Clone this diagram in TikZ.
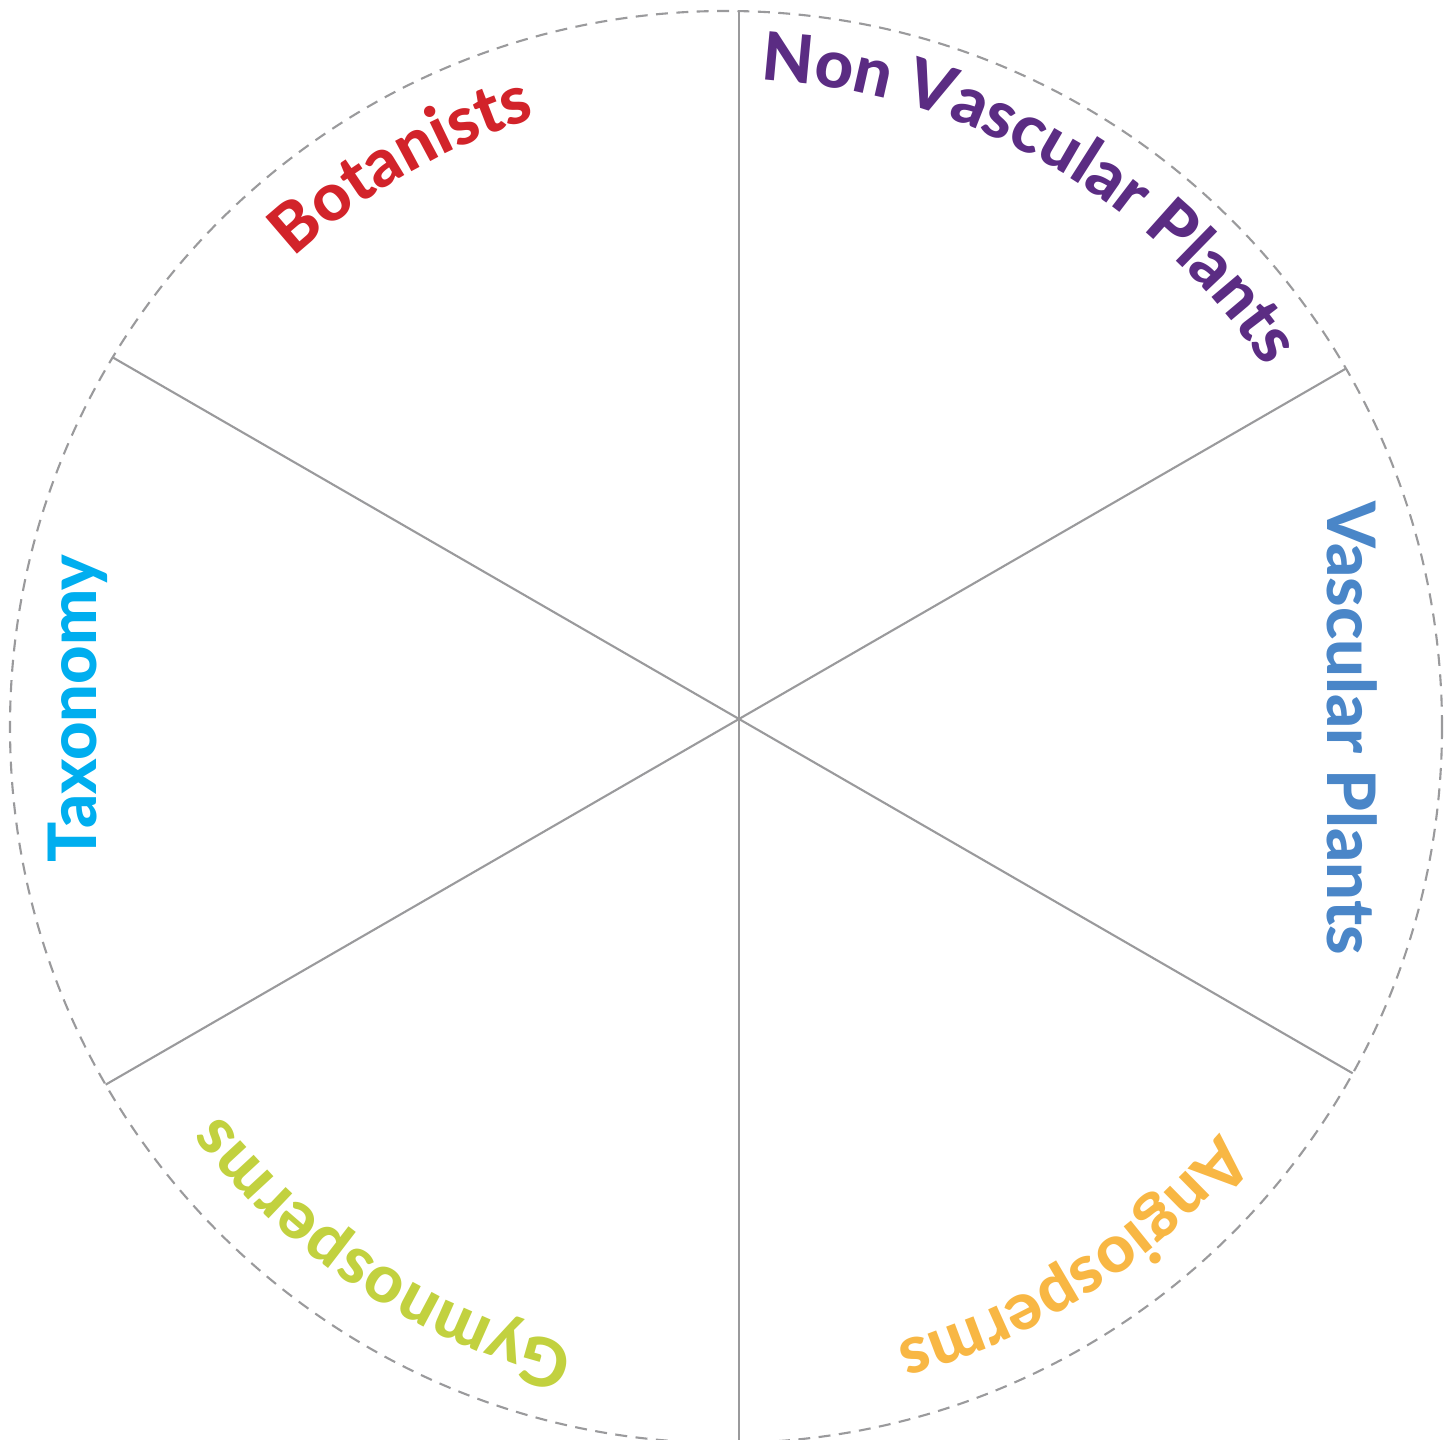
\documentclass[tikz,border=0pt]{standalone}
\usepackage{fontspec}
\usepackage{xcolor}
\usepackage{tikz}
\usetikzlibrary{
    decorations.text,
    calc
}
\IfFontExistsTF{Lato Heavy}{
    \newfontfamily\latofont{Lato Heavy}
    \newcommand{\ringfont}{\latofont\fontsize{19}{19}\selectfont}
}{
    \newfontfamily\latofont{Lato}
    \newcommand{\ringfont}{\latofont\bfseries\fontsize{19}{19}\selectfont}
}
\definecolor{rimgray}{HTML}{9A9A9C}
\definecolor{botred}{HTML}{D2232A}
\definecolor{nonpurple}{HTML}{5B2C83}
\definecolor{vascblue}{HTML}{4A86C8}
\definecolor{angioorange}{HTML}{F8B744}
\definecolor{gymnogreen}{HTML}{C2D13F}
\definecolor{taxocyan}{HTML}{00AEEF}
\tikzset{
    rim/.style={draw=rimgray, line width=0.6pt, dash pattern=on 3.4pt off 2.4pt},
    spoke/.style={draw=rimgray, line width=0.6pt},
    sidelabel/.style={inner sep=0pt, anchor=base, font=\ringfont}
}
\newcommand{\ringlabel}[4]{
    \path[decorate, decoration={text along path, text align=center,
        text color=#3, text={|\ringfont|#4}}]
        ($(C) + (#2+45:#1)$) arc[start angle=#2+45, end angle=#2-45, radius=#1];
}

\begin{document}
\begin{tikzpicture}[x=0.01cm, y=0.01cm]
    \useasboundingbox (0, 0) rectangle (1452, 1440);
    \coordinate (C) at (726, 713);
    \coordinate (O) at (739, 721);
    \draw[rim] (C) circle[radius=716];
    \foreach \ang/\len in {90/707.9, 30/700.7, -30/708.6, -90/723.9, 210/731.3, 150/723.1}
        \draw[spoke] (O) -- ++(\ang:\len);
    \ringlabel{638}{120}{botred}{Botanists}
    \ringlabel{648}{60.3}{nonpurple}{Non Vascular Plants}
    \ringlabel{639}{-57}{angioorange}{Angiosperms}
    \ringlabel{637}{-123.1}{gymnogreen}{Gymnosperms}
    \node[sidelabel, rotate=-90, text=vascblue] (vascular) at (1327, 711.5) {Vascular Plants};
    \node[sidelabel, rotate=90, text=taxocyan] (taxonomy) at (96, 731.5) {Taxonomy};
\end{tikzpicture}
\end{document}
